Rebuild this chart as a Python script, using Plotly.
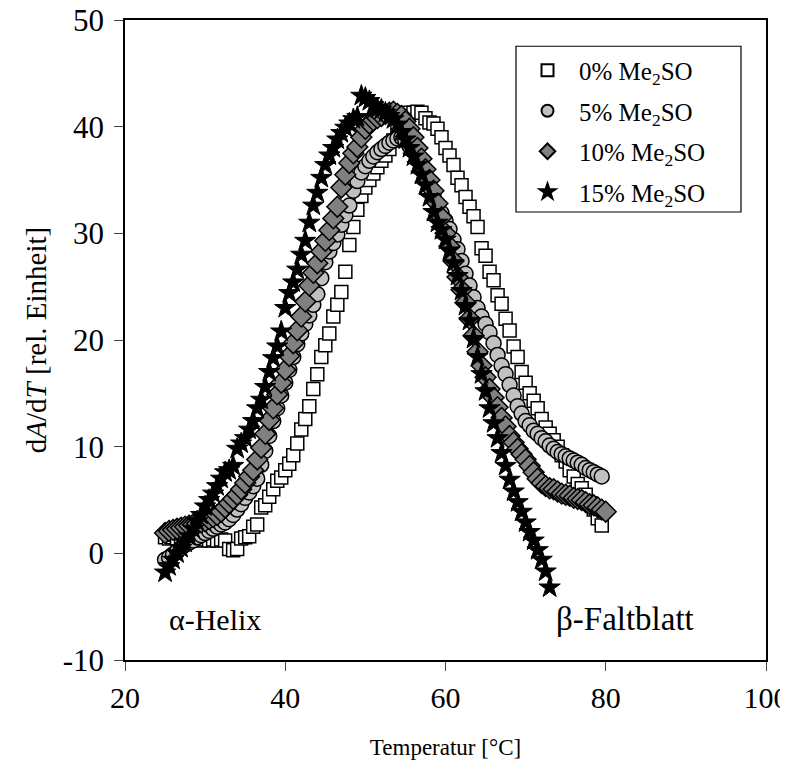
import plotly.graph_objects as go

# Temperature grid [°C]
T = [25.0, 25.5, 26.0, 26.5, 27.0, 27.5, 28.0, 28.5, 29.0, 29.5,
     30.0, 30.5, 31.0, 31.5, 32.0, 32.5, 33.0, 33.5, 34.0, 34.5,
     35.0, 35.5, 36.0, 36.5, 37.0, 37.5, 38.0, 38.5, 39.0, 39.5,
     40.0, 40.5, 41.0, 41.5, 42.0, 42.5, 43.0, 43.5, 44.0, 44.5,
     45.0, 45.5, 46.0, 46.5, 47.0, 47.5, 48.0, 48.5, 49.0, 49.5,
     50.0, 50.5, 51.0, 51.5, 52.0, 52.5, 53.0, 53.5, 54.0, 54.5,
     55.0, 55.5, 56.0, 56.5, 57.0, 57.5, 58.0, 58.5, 59.0, 59.5,
     60.0, 60.5, 61.0, 61.5, 62.0, 62.5, 63.0, 63.5, 64.0, 64.5,
     65.0, 65.5, 66.0, 66.5, 67.0, 67.5, 68.0, 68.5, 69.0, 69.5,
     70.0, 70.5, 71.0, 71.5, 72.0, 72.5, 73.0, 73.5, 74.0, 74.5,
     75.0, 75.5, 76.0, 76.5, 77.0, 77.5, 78.0, 78.5, 79.0, 79.5,
     80.0]

dmso_0 = [1.5, 1.4, 1.5, 1.4, 1.3, 1.4, 1.3, 1.4, 1.3, 1.2, 1.3, 1.2, 1.3, 1.2, 1.3, 1.2,
          0.4, 0.3, 0.4, 1.4, 1.5, 1.6, 2.5, 2.7,
          4.3, 4.5, 5.3, 6.0, 6.8, 7.1, 7.8, 8.4,
          9.2, 10.3, 11.6, 12.6, 13.8, 15.4, 16.8, 18.4,
          19.5, 20.6, 22.2, 23.3, 24.5, 26.4, 28.9, 30.6,
          32.2, 33.5, 34.3, 35.0, 35.6, 36.2, 36.8, 37.3,
          37.9, 38.7, 39.6, 40.5, 41.0, 41.3, 41.3, 41.4,
          41.3, 40.8, 40.4, 40.3, 39.8, 39.0, 38.0, 37.3,
          36.4, 35.2, 34.5, 33.4, 32.5, 31.6, 30.6, 28.6,
          27.9, 26.4, 25.6, 24.2, 23.4, 22.0, 20.9, 19.4,
          18.4, 17.0, 16.0, 15.0, 14.3, 13.6, 12.6, 11.8,
          11.2, 10.6, 10.0, 9.2, 8.6, 7.8, 7.2, 6.5,
          6.1, 5.5, 4.7, 4.1, 3.3, 2.6]

dmso_5 = [-0.6, -0.4, -0.1, 0.2, 0.5, 0.8, 1.0, 1.2,
          1.5, 1.7, 1.9, 2.1, 2.3, 2.5, 2.7, 2.9,
          3.2, 3.6, 4.1, 4.6, 5.2, 5.7, 6.3, 7.0,
          8.3, 9.6, 11.0, 12.4, 13.6, 14.8, 16.0, 17.2,
          18.4, 19.6, 20.6, 21.5, 22.3, 23.3, 24.3, 25.8,
          27.3, 28.3, 29.1, 29.9, 30.8, 31.7, 32.6, 34.0,
          34.9, 35.7, 36.3, 36.8, 37.2, 37.6, 37.9, 38.2,
          38.5, 38.7, 38.9, 39.0, 38.7, 38.2, 37.7, 37.1,
          36.3, 35.4, 34.4, 33.5, 32.7, 31.9, 31.2, 30.4,
          29.4, 28.5, 27.4, 26.2, 25.1, 24.0, 23.0, 22.2,
          21.5, 20.7, 19.7, 18.6, 17.6, 16.8, 15.8, 14.8,
          13.8, 13.1, 12.4, 12.0, 11.5, 11.2, 10.8, 10.5,
          10.1, 9.8, 9.5, 9.3, 9.1, 8.9, 8.7, 8.5,
          8.3, 8.0, 7.8, 7.6, 7.4, 7.2]

dmso_10 = [1.9, 2.1, 2.2, 2.3, 2.4, 2.5, 2.6, 2.7,
           2.8, 2.9, 3.0, 3.2, 3.4, 3.6, 3.9, 4.3,
           4.7, 5.1, 5.5, 6.0, 6.6, 7.2, 7.8, 8.8,
           9.9, 11.2, 12.5, 13.6, 14.9, 16.0, 17.2, 18.5,
           19.7, 20.9, 22.2, 23.6, 25.1, 26.3, 27.2, 28.3,
           29.3, 30.3, 31.4, 32.5, 34.3, 35.5, 36.6, 37.5,
           38.1, 39.0, 39.8, 40.3, 40.6, 40.8, 41.0, 41.2,
           41.3, 41.4, 41.2, 41.0, 40.5, 39.8, 39.0, 38.0,
           37.0, 36.0, 35.0, 34.0, 32.8, 31.5, 30.0, 28.8,
           27.4, 25.9, 24.7, 23.5, 22.0, 20.4, 18.9, 17.6,
           16.5, 15.4, 14.6, 13.7, 12.7, 11.9, 11.0, 10.4,
           9.8, 9.3, 8.8, 8.2, 7.6, 7.0, 6.6, 6.3,
           6.1, 6.0, 5.8, 5.6, 5.5, 5.4, 5.2, 5.1,
           5.0, 4.8, 4.6, 4.5, 4.3, 4.1, 3.9]

dmso_15 = [-1.8, -1.2, -0.6, 0.0, 0.5, 1.0, 1.6, 2.3,
           3.0, 3.6, 4.4, 5.0, 5.6, 6.3, 7.0, 7.6,
           7.8, 8.2, 9.8, 10.3, 10.8, 11.6, 12.4, 13.6,
           14.4, 15.6, 17.0, 18.3, 19.4, 20.8, 23.0, 24.4,
           25.4, 26.6, 28.0, 29.3, 31.0, 32.6, 33.8, 35.2,
           36.4, 37.3, 38.0, 38.8, 39.4, 39.9, 40.3, 40.7,
           40.9, 42.9, 42.7, 42.4, 42.0, 41.7, 41.6, 41.3,
           41.0, 40.7, 40.2, 39.5, 38.8, 38.0, 37.2, 36.4,
           35.5, 34.5, 33.4, 32.0, 31.0, 30.3, 29.4, 28.4,
           27.2, 26.0, 24.6, 23.2, 21.8, 20.1, 18.4, 16.8,
           15.2, 13.6, 12.2, 10.8, 9.4, 8.2, 6.9, 5.8,
           4.8, 3.9, 2.9, 2.0, 1.2, 0.3, -0.6, -1.7,
           -3.2]

labels = ["0% Me<sub>2</sub>SO", "5% Me<sub>2</sub>SO",
          "10% Me<sub>2</sub>SO", "15% Me<sub>2</sub>SO"]
x_ticks = [20, 40, 60, 80, 100]
y_ticks = [-10, 0, 10, 20, 30, 40, 50]
y_ticktext = ["-10", "0", "10", "20", "30", "40", "50"]

FONT = "Liberation Serif, Times New Roman, serif"

series = [
    (dmso_0, labels[0], dict(symbol="square", size=13, color="white",
                             line=dict(color="black", width=1.5))),
    (dmso_5, labels[1], dict(symbol="circle", size=15, color="#c0c0c0",
                             line=dict(color="black", width=1.5))),
    (dmso_10, labels[2], dict(symbol="diamond", size=16, color="#808080",
                              line=dict(color="black", width=1.5))),
    (dmso_15, labels[3], dict(symbol="star", size=16, color="black",
                              line=dict(color="black", width=1))),
]

fig = go.Figure()
for i, (vals, name, mk) in enumerate(series):
    fig.add_trace(go.Scatter(x=T[:len(vals)], y=vals, mode="markers",
                             name=name, marker=mk, legendgroup=str(i)))

fig.add_annotation(x=31.2, y=-6.2, text="α-Helix", showarrow=False,
                   font=dict(family=FONT, size=30, color="black"))
fig.add_annotation(x=82.4, y=-6.2, text="β-Faltblatt", showarrow=False,
                   font=dict(family=FONT, size=33, color="black"))

# legend frame
fig.add_shape(type="rect", xref="paper", yref="paper",
              x0=0.61, x1=0.961, y0=0.700, y1=0.959,
              line=dict(color="black", width=1.2), fillcolor="rgba(0,0,0,0)",
              layer="above")

fig.update_layout(
    width=788, height=768,
    margin=dict(l=117, r=30, t=12, b=116, autoexpand=False),
    paper_bgcolor="white", plot_bgcolor="white",
    font=dict(family=FONT, size=26, color="black"),
    showlegend=True,
    legend=dict(x=0.61, y=0.957, xanchor="left", yanchor="top",
                borderwidth=0, bgcolor="rgba(0,0,0,0)",
                font=dict(family=FONT, size=25, color="black"),
                tracegroupgap=5, itemsizing="constant", itemwidth=53),
    xaxis=dict(range=[20, 100], tickvals=x_ticks, ticks="outside", ticklen=9,
               ticklabelstandoff=1, automargin=False,
               tickfont=dict(family=FONT, size=30, color="black"),
               ticklabeloverflow="allow",
               showline=True, linecolor="black", linewidth=1.5, mirror=True,
               showgrid=False, zeroline=False,
               title=dict(text="Temperatur [°C]", standoff=26,
                          font=dict(size=23))),
    yaxis=dict(range=[-10, 50], tickvals=y_ticks, ticktext=y_ticktext,
               ticks="outside", ticklen=9, ticklabelstandoff=4,
               automargin=False,
               tickfont=dict(family=FONT, size=31, color="black"),
               ticklabeloverflow="allow",
               showline=True, linecolor="black", linewidth=1.5, mirror=True,
               showgrid=False, zeroline=False,
               title=dict(text="d<i>A</i>/d<i>T</i> [rel. Einheit]",
                          standoff=8, font=dict(size=29))),
)

fig.write_html("out.html")
